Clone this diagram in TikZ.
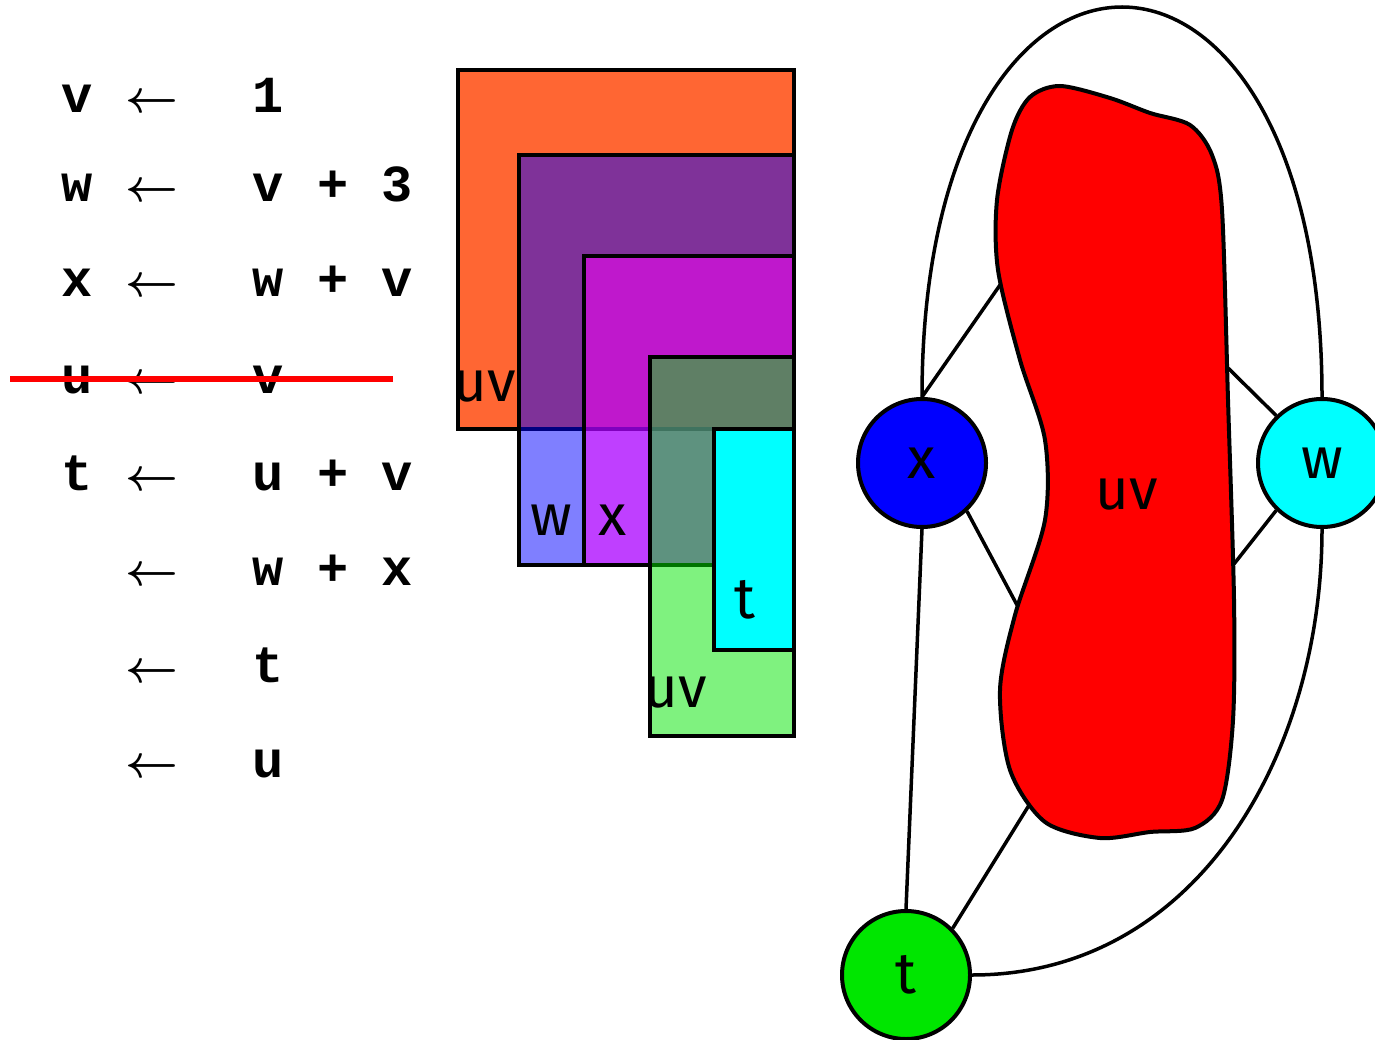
\documentclass[tikz,border=0pt]{standalone}
\usepackage{graphicx}
\usepackage{fontspec}
\newfontfamily\codefont{Liberation Mono}
\newfontfamily\labelfont{Fira Sans}
\definecolor{boxorange}{RGB}{255,102,51}
\definecolor{nodegreen}{RGB}{0,230,0}
\definecolor{nodeblue}{RGB}{0,0,255}
\definecolor{nodecyan}{RGB}{0,255,255}
\definecolor{boxmagenta}{RGB}{255,0,255}
\definecolor{blobred}{RGB}{255,0,0}

\begin{document}
\begin{tikzpicture}[x=1pt, y=-1pt,
    code/.style={anchor=base, inner sep=0pt, font=\fontsize{52}{52}\selectfont\codefont\bfseries},
    arrowtext/.style={anchor=base, inner sep=0pt},
    lbl/.style={inner sep=0pt, font=\fontsize{58}{58}\selectfont\labelfont},
    box/.style={draw=black, line width=4pt, fill opacity=0.5},
    vertex/.style={circle, draw=black, line width=4pt, minimum size=128pt, inner sep=0pt,
        font=\fontsize{58}{58}\selectfont\labelfont},
    edge/.style={line width=3.5pt}]
    % Bildbereich
    \useasboundingbox (0,0) rectangle (1375,1040);

    % Programmtext
    \foreach \y [count=\i] in {113,202,297,393,490,585,682,777}
        \node[arrowtext] (arr\i) at (152,\y) {\scalebox{4.6}{\boldmath$\leftarrow$}};
    \node[code] (lhs1) at (77,113) {v};
    \node[code] (lhs2) at (77,202) {w};
    \node[code] (lhs3) at (77,297) {x};
    \node[code] (lhs4) at (77,393) {u};
    \node[code] (lhs5) at (77,490) {t};
    \node[code] (opa1) at (268,113) {1};
    \node[code] (opa2) at (268,202) {v};
    \node[code] (plus2) at (333,202) {+};
    \node[code] (opb2) at (397,202) {3};
    \node[code] (opa3) at (268,297) {w};
    \node[code] (plus3) at (333,297) {+};
    \node[code] (opb3) at (397,297) {v};
    \node[code] (opa4) at (268,393) {v};
    \node[code] (opa5) at (268,490) {u};
    \node[code] (plus5) at (333,490) {+};
    \node[code] (opb5) at (397,490) {v};
    \node[code] (opa6) at (268,585) {w};
    \node[code] (plus6) at (333,585) {+};
    \node[code] (opb6) at (397,585) {x};
    \node[code] (opa7) at (268,682) {t};
    \node[code] (opa8) at (268,777) {u};
    % durchgestrichene Zeile
    \draw[blobred, line width=6pt] (10,379) -- (393,379);

    % Lebensbereiche
    \draw[box, fill=boxorange, fill opacity=1] (458,70) rectangle (794,429);
    \node[lbl] (uvA) at (485,387) {uv};
    \draw[box, fill=nodeblue] (519,155) rectangle (794,565);
    \draw[box, fill=boxmagenta] (584,256) rectangle (794,565);
    \draw[box, fill=nodegreen] (650,357) rectangle (794,736);
    \draw[box, fill=nodecyan, fill opacity=1] (714,429) rectangle (794,650);
    \node[lbl] (wA) at (551,520) {w};
    \node[lbl] (xA) at (613,520) {x};
    \node[lbl] (tA) at (745,600) {t};
    \node[lbl] (uvB) at (676,693) {uv};

    % Interferenzgraph
    \node[vertex, fill=nodeblue] (x) at (922,463) {x};
    \node[vertex, fill=nodecyan] (w) at (1322,463) {w};
    \node[vertex, fill=nodegreen] (t) at (906,975) {t};
    \coordinate (uv1) at (1000,285);
    \coordinate (uv2) at (1017,605);
    \coordinate (uv3) at (1031,802);
    \coordinate (uv4) at (1228,368);
    \coordinate (uv5) at (1234,564);
    \draw[edge] (x.north) -- (uv1);
    \draw[edge] (x.-47) -- (uv2);
    \draw[edge] (t.45) -- (uv3);
    \draw[edge] (w.134) -- (uv4);
    \draw[edge] (w.226) -- (uv5);
    \draw[edge] (x.south) -- (t.north);
    \draw[edge] (x.north) .. controls +(0,-520) and +(0,-520) .. (w.north);
    \draw[edge] (t.east) .. controls +(225,0) and +(0,225) .. (w.south);
    % Klumpen uv
    \draw[line width=4pt, fill=blobred] plot[smooth cycle] coordinates {
        (1060,86) (1110,98) (1150,113) (1190,125) (1212,155) (1222,210)
        (1228,400) (1234,600) (1233,720) (1222,800) (1195,828) (1150,832)
        (1100,838) (1045,822) (1010,770) (1000,690) (1015,615) (1045,520)
        (1045,440) (1020,360) (998,270) (997,200) (1012,130) (1030,97)};
    \node[lbl] (uv) at (1127,495) {uv};
\end{tikzpicture}
\end{document}
